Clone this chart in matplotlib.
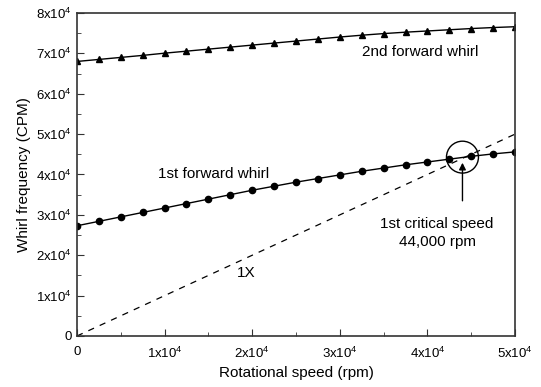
import numpy as np
import matplotlib.pyplot as plt
from matplotlib.ticker import MultipleLocator, FuncFormatter
from matplotlib.patches import Ellipse

plt.rcParams['font.family'] = ['Liberation Sans', 'DejaVu Sans']
plt.rcParams['mathtext.fontset'] = 'custom'
plt.rcParams['mathtext.rm'] = 'Liberation Sans'

# rotational speed (rpm)
speed = [0, 2500, 5000, 7500, 10000, 12500, 15000, 17500, 20000, 22500, 25000,
         27500, 30000, 32500, 35000, 37500, 40000, 42500, 45000, 47500, 50000]
# 1st forward whirl (CPM)
first_fw = [27300, 28400, 29500, 30600, 31700, 32800, 33900, 35000, 36100, 37100, 38100,
            39000, 39900, 40800, 41600, 42400, 43100, 43800, 44500, 45100, 45600]
# 2nd forward whirl (CPM)
second_fw = [68000, 68500, 69000, 69500, 70050, 70550, 71050, 71550, 72050, 72550, 73050,
             73550, 74050, 74500, 74900, 75250, 75550, 75850, 76150, 76400, 76600]
one_x = [0, 50000]

fig = plt.figure(figsize=(5.41, 3.87), dpi=100)
ax = fig.add_axes([0.1423, 0.1318, 0.8097, 0.8346])

ax.plot(speed, second_fw, color='black', lw=1, marker='^', ms=5)
ax.plot(speed, first_fw, color='black', lw=1, marker='o', ms=4.5)
ax.plot(one_x, one_x, color='black', lw=0.9, ls=(0, (5, 5)))

ax.set_xlim(0, 50000)
ax.set_ylim(0, 80000)

def fmt(v, pos):
    if v == 0:
        return '0'
    return r'%dx10$^{4}$' % round(v / 10000)

ax.xaxis.set_major_locator(MultipleLocator(10000))
ax.xaxis.set_minor_locator(MultipleLocator(5000))
ax.yaxis.set_major_locator(MultipleLocator(10000))
ax.yaxis.set_minor_locator(MultipleLocator(5000))
ax.xaxis.set_major_formatter(FuncFormatter(fmt))
ax.yaxis.set_major_formatter(FuncFormatter(fmt))
ax.tick_params(which='both', direction='in', labelsize=9.5, color='#333333')
ax.tick_params(which='major', length=5)
ax.tick_params(which='minor', length=3)
ax.tick_params(axis='x', pad=7)
for s in ax.spines.values():
    s.set_color('#333333')
    s.set_linewidth(1.2)

ax.set_xlabel('Rotational speed (rpm)', fontsize=11, labelpad=4)
ax.set_ylabel('Whirl frequency (CPM)', fontsize=11, labelpad=4)

ax.text(0.783, 0.879, '2nd forward whirl', transform=ax.transAxes, fontsize=11, ha='center', va='center')
ax.text(0.185, 0.50, '1st forward whirl', transform=ax.transAxes, fontsize=11, ha='left', va='center')
ax.text(0.386, 0.195, '1X', transform=ax.transAxes, fontsize=11, ha='center', va='center')
ax.text(0.822, 0.319, '1st critical speed\n44,000 rpm', transform=ax.transAxes, fontsize=11,
        ha='center', va='center', linespacing=1.3)

ax.add_patch(Ellipse((44000, 44300), width=3650, height=7900, fill=False, color='black', lw=1))
ax.annotate('', xy=(44000, 43600), xytext=(44000, 32800),
            arrowprops=dict(arrowstyle='-|>', color='black', lw=1, mutation_scale=10))

fig.savefig('out.png', dpi=100)
